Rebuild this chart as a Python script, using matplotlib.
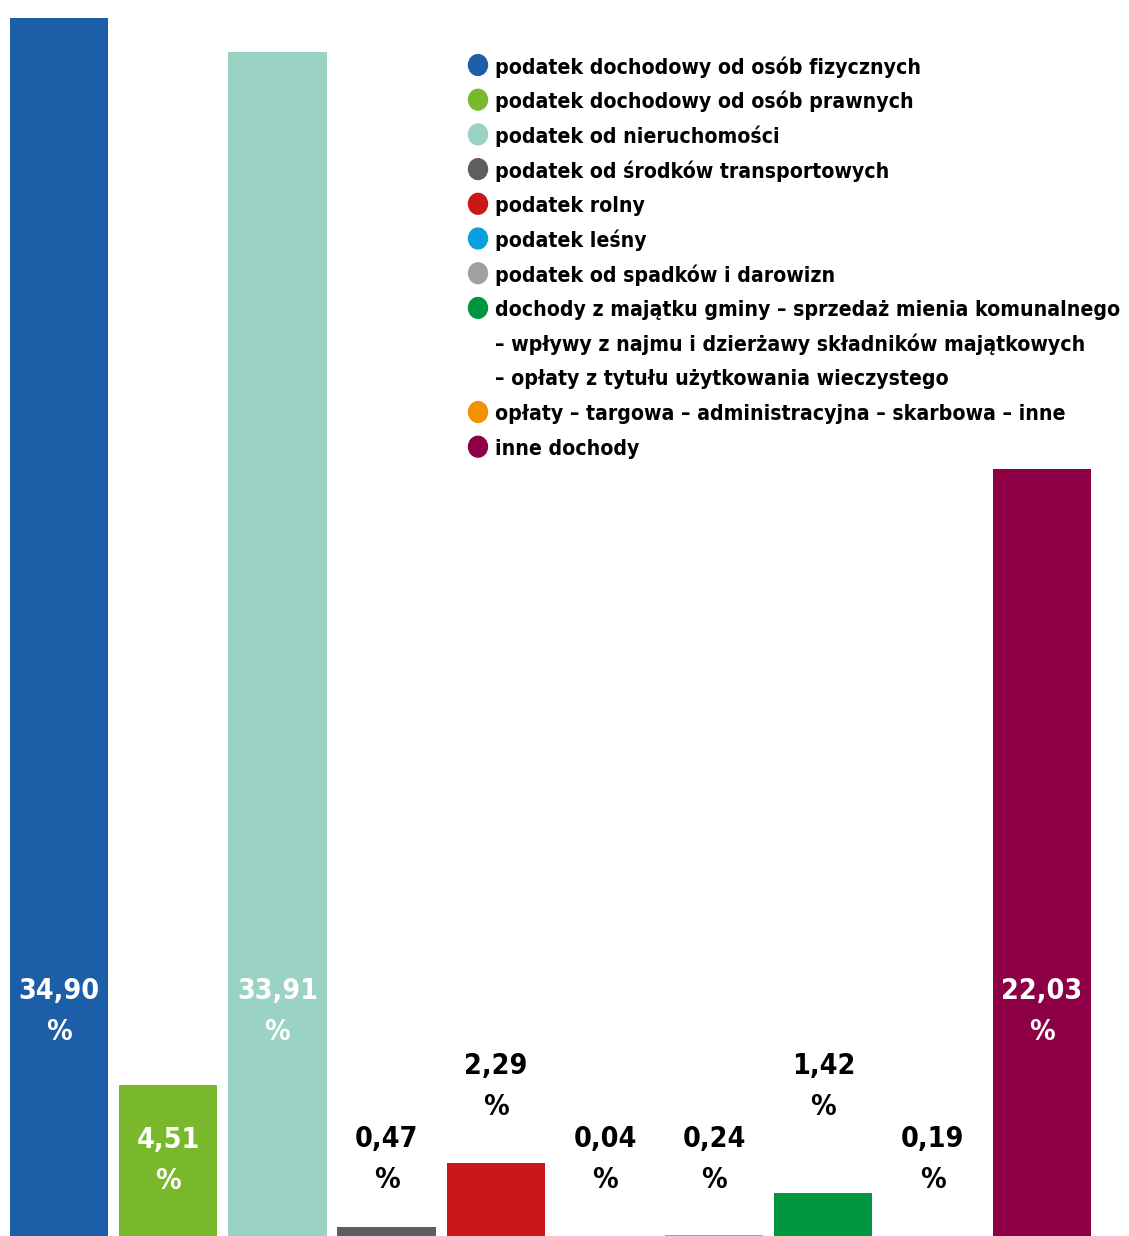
import matplotlib
matplotlib.use("Agg")
import matplotlib.pyplot as plt

categories = [
    "podatek dochodowy od osób fizycznych",
    "podatek dochodowy od osób prawnych",
    "podatek od nieruchomości",
    "podatek od środków transportowych",
    "podatek rolny",
    "podatek leśny",
    "podatek od spadków i darowizn",
    "dochody z majątku gminy – sprzedaż mienia komunalnego\n– wpływy z najmu i dzierżawy składników majątkowych\n– opłaty z tytułu użytkowania wieczystego",
    "opłaty – targowa – administracyjna – skarbowa – inne",
    "inne dochody",
]
values = [34.90, 4.51, 33.91, 0.47, 2.29, 0.04, 0.24, 1.42, 0.19, 22.03]
value_labels = ["34,90", "4,51", "33,91", "0,47", "2,29", "0,04", "0,24", "1,42", "0,19", "22,03"]
colors = ["#1c5ea8", "#79b82b", "#9ad2c3", "#5e5e5e", "#cc1719",
          "#0aa0e0", "#a0a0a0", "#009640", "#f39200", "#8d0046"]

FONT = dict(family="DejaVu Sans", stretch="condensed", weight="bold")

W, H = 1129, 1236
fig = plt.figure(figsize=(W / 100, H / 100), dpi=100)
ax = fig.add_axes([0, 0, 1, 1])
ax.set_axis_off()

x = list(range(len(values)))
ax.bar(x, values, width=0.9, color=colors)
ax.set_xlim(-0.540, 9.799)
ax.set_ylim(0.2, 35.40)

for i, (v, lab) in enumerate(zip(values, value_labels)):
    if v >= 20:
        y, c = 6.6, "white"
    elif v >= 4:
        y, c = 2.36, "white"
    elif v >= 1:
        y, c = 4.46, "black"
    else:
        y, c = 2.39, "black"
    ax.text(i, y, lab + "\n%", ha="center", va="center", color=c,
            fontsize=20.5, linespacing=1.6, **FONT)

# legend (manual, marker aligned with first line)
lx_m, lx_t = 478 / W, 495 / W
y0 = 65
step = 34.7
row = 0
for cat, col in zip(categories, colors):
    yy = 1 - (y0 + step * row) / H
    fig.patches.append(plt.Circle((lx_m, yy), 9.5 / W, transform=fig.transFigure,
                                  color=col, figure=fig))
    lines = cat.split("\n")
    for k, line in enumerate(lines):
        yk = 1 - (y0 + step * (row + k)) / H
        fig.text(lx_t, yk, line, ha="left", va="center_baseline", fontsize=15.2,
                 color="black", **FONT)
    row += len(lines)

fig.savefig("out.png", dpi=100, facecolor="white")
